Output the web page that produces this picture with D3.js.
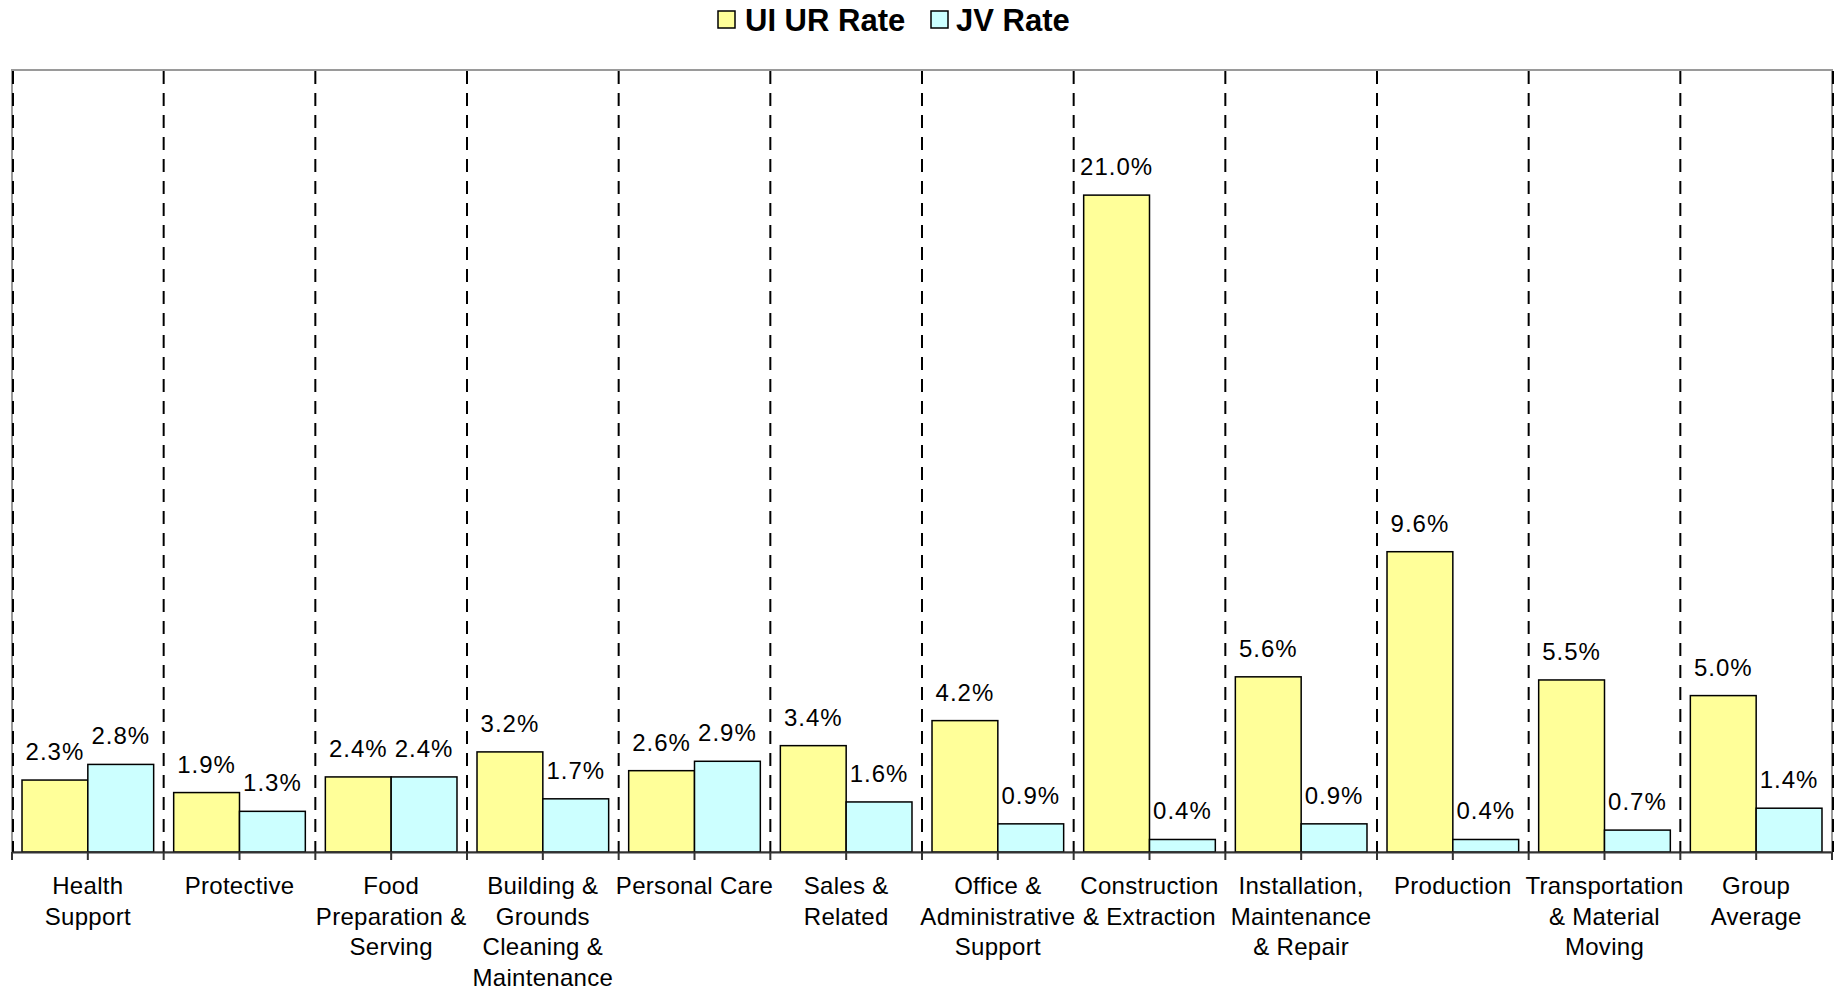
<!DOCTYPE html>
<html>
<head>
<meta charset="utf-8">
<script src="https://cdn.jsdelivr.net/npm/d3@7"></script>
<style>
  html, body { margin: 0; padding: 0; background: #fff; }
  svg { display: block; }
  text { font-family: "Liberation Sans", Arial, sans-serif; }
</style>
</head>
<body>
<svg id="chart" width="1837" height="991"></svg>
<script>
const categories = [
  "Health Support", "Protective", "Food Preparation & Serving",
  "Building & Grounds Cleaning & Maintenance", "Personal Care", "Sales & Related",
  "Office & Administrative Support", "Construction & Extraction",
  "Installation, Maintenance & Repair", "Production",
  "Transportation & Material Moving", "Group Average"
];
const categoryLines = [
  ["Health", "Support"], ["Protective"], ["Food", "Preparation &", "Serving"],
  ["Building &", "Grounds", "Cleaning &", "Maintenance"], ["Personal Care"], ["Sales &", "Related"],
  ["Office &", "Administrative", "Support"], ["Construction", "& Extraction"],
  ["Installation,", "Maintenance", "& Repair"], ["Production"],
  ["Transportation", "& Material", "Moving"], ["Group", "Average"]
];
const seriesNames = ["UI UR Rate", "JV Rate"];
const uiUrRate = [2.3, 1.9, 2.4, 3.2, 2.6, 3.4, 4.2, 21.0, 5.6, 9.6, 5.5, 5.0];
const jvRate   = [2.8, 1.3, 2.4, 1.7, 2.9, 1.6, 0.9, 0.4, 0.9, 0.4, 0.7, 1.4];
const seriesColors = ["#FFFF99", "#CCFFFF"];
const yMax = 25;

(function () {
const svg = d3.select("#chart");
const pLeft = 12, pRight = 1832, pTop = 70, pBottom = 852;

const x = d3.scaleBand().domain(categories).range([pLeft, pRight]).padding(0);
const bw = x.bandwidth();
const xs = d3.scaleBand().domain(seriesNames).range([bw * 0.066, bw * 0.934]).padding(0);
const y = d3.scaleLinear().domain([0, yMax]).range([pBottom, pTop]);

// plot border (grey)
svg.append("rect")
  .attr("x", pLeft).attr("y", pTop)
  .attr("width", pRight - pLeft).attr("height", pBottom - pTop)
  .attr("fill", "#fff").attr("stroke", "#9a9a9a").attr("stroke-width", 2);

// dashed vertical gridlines at category boundaries
const bounds = categories.map(c => x(c)).concat([pRight]);
svg.append("g").selectAll("line").data(bounds).join("line")
  .attr("x1", d => d + (d === pLeft || d === pRight ? 1 : 0))
  .attr("x2", d => d + (d === pLeft || d === pRight ? 1 : 0))
  .attr("y1", pTop + 1).attr("y2", pBottom)
  .attr("stroke", "#000").attr("stroke-width", 2)
  .attr("stroke-dasharray", "13,9");

// bars
const data = categories.map((c, i) => ({ cat: c, vals: [uiUrRate[i], jvRate[i]] }));
const groups = svg.append("g").selectAll("g").data(data).join("g")
  .attr("transform", d => `translate(${x(d.cat)},0)`);

groups.selectAll("rect").data(d => d.vals.map((v, j) => ({ name: seriesNames[j], v, j })))
  .join("rect")
  .attr("x", d => xs(d.name))
  .attr("width", xs.bandwidth())
  .attr("y", d => y(d.v))
  .attr("height", d => y(0) - y(d.v))
  .attr("fill", d => seriesColors[d.j])
  .attr("stroke", "#000").attr("stroke-width", 1.5);

groups.selectAll("text").data(d => d.vals.map((v, j) => ({ name: seriesNames[j], v, j })))
  .join("text")
  .attr("x", d => xs(d.name) + xs.bandwidth() / 2)
  .attr("y", d => y(d.v) - 20)
  .attr("text-anchor", "middle")
  .attr("font-size", 24)
  .attr("letter-spacing", 1)
  .attr("fill", "#000")
  .text(d => d.v.toFixed(1) + "%");

// x axis
const axis = d3.axisBottom(x).tickSize(0).tickFormat("");
const ax = svg.append("g").attr("transform", `translate(0,${pBottom})`).call(axis);
ax.select(".domain").attr("stroke", "#333").attr("stroke-width", 2);
const tickXs = bounds.concat(categories.map(c => x(c) + bw / 2));
svg.append("g").selectAll("line").data(tickXs).join("line")
  .attr("x1", d => d).attr("x2", d => d)
  .attr("y1", pBottom).attr("y2", pBottom + 8)
  .attr("stroke", "#333").attr("stroke-width", 2);

// category labels
const labG = svg.append("g");
categories.forEach((c, i) => {
  const t = labG.append("text")
    .attr("x", x(c) + bw / 2)
    .attr("y", 894)
    .attr("text-anchor", "middle")
    .attr("font-size", 24)
    .attr("letter-spacing", 0.3)
    .attr("fill", "#000");
  categoryLines[i].forEach((ln, k) => {
    t.append("tspan").attr("x", x(c) + bw / 2).attr("y", 894 + k * 30.6).text(ln);
  });
});

// legend
const legend = svg.append("g");
const legItems = [{ name: seriesNames[0], sx: 718, tx: 745 }, { name: seriesNames[1], sx: 931, tx: 956 }];
legItems.forEach((it, j) => {
  legend.append("rect").attr("x", it.sx).attr("y", 11).attr("width", 17).attr("height", 17)
    .attr("fill", seriesColors[j]).attr("stroke", "#000").attr("stroke-width", 1.5);
  legend.append("text").attr("x", it.tx).attr("y", 31)
    .attr("font-size", 31).attr("font-weight", "bold").attr("fill", "#000")
    .text(it.name);
});
})();
</script>
</body>
</html>
